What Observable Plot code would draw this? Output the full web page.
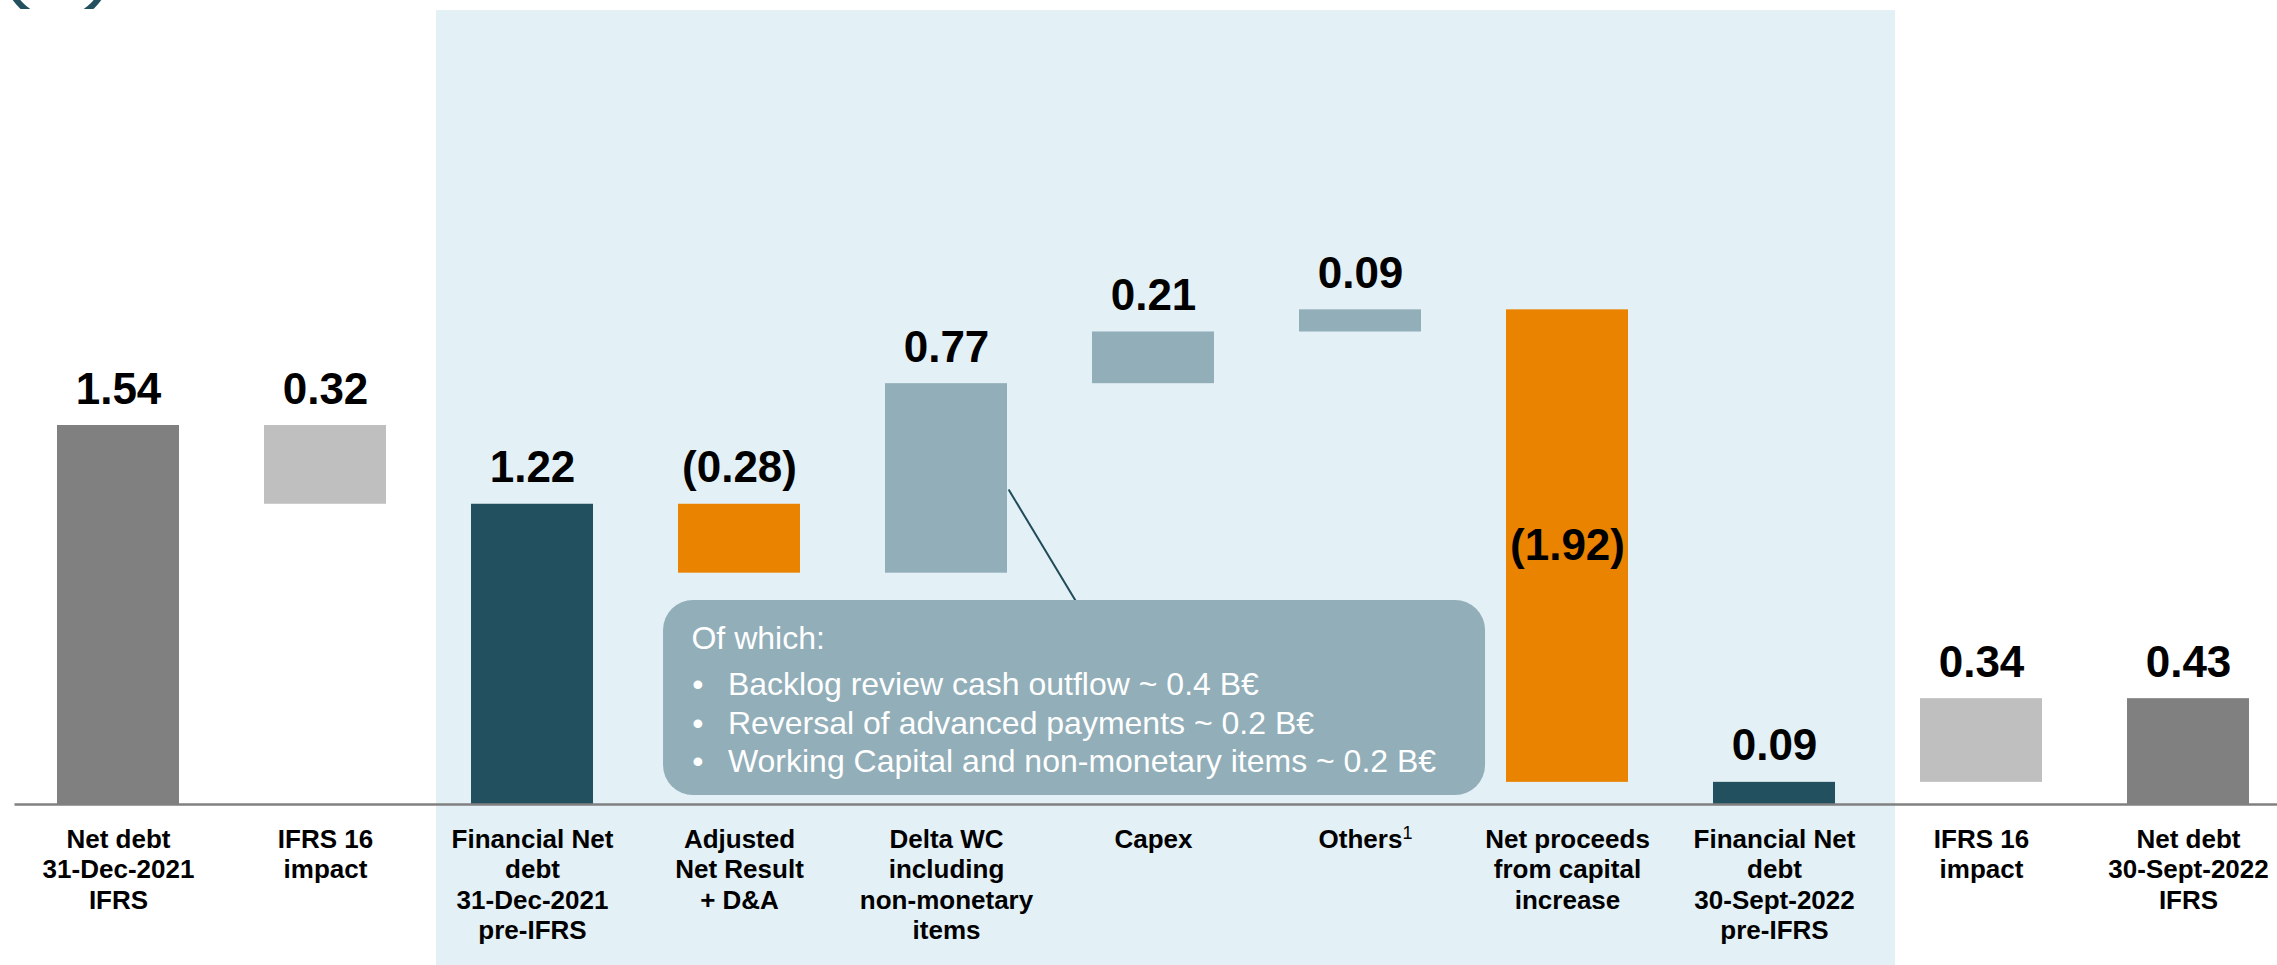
<!DOCTYPE html>
<html>
<head>
<meta charset="utf-8">
<script src="https://cdn.jsdelivr.net/npm/d3@7"></script>
<script src="https://cdn.jsdelivr.net/npm/@observablehq/plot@0.6"></script>
<style>
  html, body { margin: 0; padding: 0; background: #ffffff; }
  #wrap { position: relative; width: 2277px; height: 965px; overflow: hidden; }
  #badge { position: absolute; left: 0; top: 0; width: 130px; height: 9px; overflow: hidden; }
  #badge div { position: absolute; left: 3px; top: -85px; width: 108px; height: 108px; box-sizing: border-box;
               border: 6px solid #23505F; border-radius: 50%; }
</style>
</head>
<body>
<div id="wrap"><div id="chart"></div><div id="badge"><div></div></div></div>
<script>
// ---- data ----
const categories = [
  "Net debt\n31-Dec-2021\nIFRS",
  "IFRS 16\nimpact",
  "Financial Net\ndebt\n31-Dec-2021\npre-IFRS",
  "Adjusted\nNet Result\n+ D&A",
  "Delta WC\nincluding\nnon-monetary\nitems",
  "Capex",
  "Others\u00B9",
  "Net proceeds\nfrom capital\nincrease",
  "Financial Net\ndebt\n30-Sept-2022\npre-IFRS",
  "IFRS 16\nimpact",
  "Net debt\n30-Sept-2022\nIFRS"
];
const values = [1.54, -0.32, 1.22, -0.28, 0.77, 0.21, 0.09, -1.92, 0.09, 0.34, 0.43];
const kinds = ["ifrs", "ifrs16", "preifrs", "decrease", "increase", "increase", "increase", "decrease", "preifrs", "ifrs16", "ifrs"];
const types = ["total", "delta", "total", "delta", "delta", "delta", "delta", "delta", "total", "delta", "total"];
const valueLabels = ["1.54", "0.32", "1.22", "(0.28)", "0.77", "0.21", "0.09", "(1.92)", "0.09", "0.34", "0.43"];
const labelInside = ["Net proceeds\nfrom capital\nincrease"];
const calloutTitle = "Of which:";
const calloutItems = [
  "Backlog review cash outflow ~ 0.4 B\u20AC",
  "Reversal of advanced payments ~ 0.2 B\u20AC",
  "Working Capital and non-monetary items ~ 0.2 B\u20AC"
];

// ---- waterfall table ----
let running = 0;
const rows = values.map((v, i) => {
  let y1, y2;
  if (types[i] === "total") { y1 = 0; y2 = v; running = v; }
  else { y1 = running; y2 = running + v; running = y2; }
  return { i, cat: categories[i], value: v, kind: kinds[i], label: valueLabels[i], y1, y2,
           top: Math.max(y1, y2), mid: (y1 + y2) / 2, inside: labelInside.includes(categories[i]) };
});

const half = 0.2947;
const chart = Plot.plot({
  width: 2277,
  height: 965,
  marginTop: 0,
  marginBottom: 161,
  marginLeft: 0,
  marginRight: 0,
  style: { fontFamily: "'Liberation Sans', Arial, sans-serif", background: "transparent", color: "#000" },
  x: { type: "linear", domain: [-0.5, 10.5], range: [14.5, 2291.5] },
  y: { domain: [0, 804 / 246.1], axis: null },
  color: {
    domain: ["ifrs", "ifrs16", "preifrs", "decrease", "increase"],
    range: ["#808080", "#BFBFBF", "#23505F", "#E98300", "#91AEB9"]
  },
  marks: [
    // shaded pre-IFRS area
    Plot.rect([0], { x1: 1.536, x2: 8.585, y1: -0.7, y2: 3.226, fill: "#E3F0F5" }),
    // bars
    Plot.rectY(rows, { x1: d => d.i - half, x2: d => d.i + half, y1: "y1", y2: "y2", fill: "kind" }),
    // baseline
    Plot.ruleY([0], { x1: -0.5, x2: 10.5, stroke: "#808080", strokeWidth: 2.5 }),
    // value labels
    Plot.text(rows.filter(d => !d.inside), {
      x: "i", y: "top", text: "label", dy: -22, lineAnchor: "bottom",
      fontSize: 44, fontWeight: "bold", fill: "#000"
    }),
    Plot.text(rows.filter(d => d.inside), {
      x: "i", y: "mid", text: "label", lineAnchor: "middle",
      fontSize: 44, fontWeight: "bold", fill: "#000"
    }),
    // category axis
    Plot.axisX({
      ticks: categories.map((_, i) => i),
      tickFormat: i => categories[i],
      tickSize: 0,
      tickPadding: 21.4,
      fontSize: 26,
      fontWeight: "bold",
      lineHeight: 1.173,
      fill: "#000",
      label: null
    }),
    // callout connector
    Plot.link([0], { x1: 4.3, y1: 1.28, x2: 4.623, y2: 0.829, stroke: "#1F4A58", strokeWidth: 2 }),
    // callout box
    Plot.rect([0], { x1: 2.633, x2: 6.604, y1: 0.0366, y2: 0.829, rx: 30, fill: "#91AEB9" }),
    Plot.text([calloutTitle], { x: 2.768, y: 0.630, text: d => d, textAnchor: "start", lineAnchor: "bottom",
      fontSize: 32, fill: "#ffffff" }),
    Plot.text([calloutItems.map(() => "\u2022").join("\n")], { x: 2.772, y: 0.555, text: d => d, textAnchor: "start",
      lineAnchor: "top", lineHeight: 1.2, fontSize: 32, fill: "#ffffff" }),
    Plot.text([calloutItems.join("\n")], { x: 2.944, y: 0.555, text: d => d, textAnchor: "start",
      lineAnchor: "top", lineHeight: 1.2, fontSize: 32, fill: "#ffffff" })
  ]
});

// render the footnote marker of "Others¹" as a real superscript
d3.select(chart).selectAll("text").each(function () {
  const el = this;
  if (el.textContent === "Others\u00B9" && !el.querySelector("tspan")) {
    el.textContent = "Others";
    const sup = document.createElementNS("http://www.w3.org/2000/svg", "tspan");
    sup.setAttribute("dy", "-0.45em");
    sup.setAttribute("font-size", "18");
    sup.setAttribute("font-weight", "normal");
    sup.textContent = "1";
    el.appendChild(sup);
    el.setAttribute("dx", "5");
  }
});
document.getElementById("chart").appendChild(chart);
</script>
</body>
</html>
